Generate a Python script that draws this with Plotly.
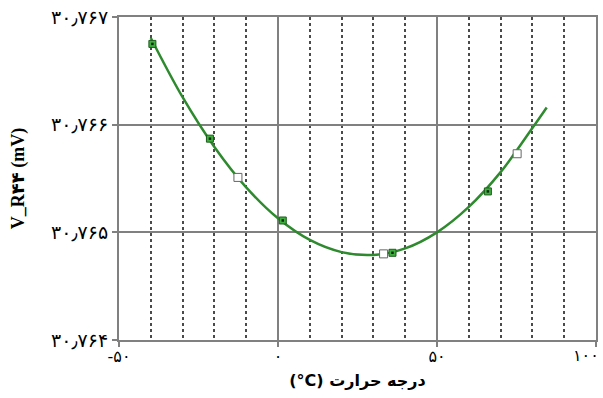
import plotly.graph_objects as go

# fitted curve
curve_x = [-40, -30, -20, -10, 0, 10, 20, 30, 40, 50, 60, 70, 80, 84.5]
curve_y = [30.766805, 30.766255, 30.765793, 30.765418, 30.765130, 30.764929,
           30.764816, 30.764790, 30.764851, 30.765000, 30.765236, 30.765559,
           30.765969, 30.766160]

# measured points (green squares)
meas_x = [-39.5, -21.4, 1.5, 36, 66]
meas_y = [30.76675, 30.76587, 30.76511, 30.76481, 30.76538]

# white squares
ref_x = [-12.6, 33.2, 75.2]
ref_y = [30.76551, 30.76480, 30.76573]

y_ticks = [30.764, 30.765, 30.766, 30.767]
y_labels = ["۳۰٫۷۶۴", "۳۰٫۷۶۵", "۳۰٫۷۶۶", "۳۰٫۷۶۷"]
x_ticks = [-50, 0, 50, 100]
x_labels = ["-۵۰", "۰", "۵۰", "۱۰۰"]

font_fam = "Liberation Serif, DejaVu Serif, DejaVu Sans, serif"

fig = go.Figure()
fig.add_trace(go.Scatter(x=curve_x, y=curve_y, mode="lines",
                         line=dict(color="#2f8a2f", width=2.5, shape="spline"),
                         hoverinfo="skip", showlegend=False))
fig.add_trace(go.Scatter(x=meas_x, y=meas_y, mode="markers",
                         marker=dict(symbol="square", size=7, color="#3fae3f",
                                     line=dict(color="#1d5e1d", width=1)),
                         showlegend=False))
fig.add_trace(go.Scatter(x=meas_x, y=meas_y, mode="markers",
                         marker=dict(symbol="square", size=2.5, color="#0b2a0b"),
                         showlegend=False))
fig.add_trace(go.Scatter(x=ref_x, y=ref_y, mode="markers",
                         marker=dict(symbol="square", size=8, color="white",
                                     line=dict(color="#666666", width=1)),
                         showlegend=False))

# the last x label sits at the right edge: draw it right-anchored so it stays inside
tick_text_axis = x_labels[:-1] + [""]
fig.add_annotation(x=x_ticks[-1], y=0, xref="x", yref="paper",
                   text=x_labels[-1], showarrow=False,
                   xanchor="right", yanchor="middle", xshift=5, yshift=-15,
                   font=dict(size=16, family="DejaVu Sans", color="black"))

fig.update_layout(
    width=603, height=398,
    margin=dict(l=119, r=7, t=17, b=58),
    paper_bgcolor="white", plot_bgcolor="white",
    font=dict(family=font_fam, size=13, color="black"),
    xaxis=dict(range=[-50, 100], tickvals=x_ticks, ticktext=tick_text_axis,
               automargin=False, ticklabeloverflow="allow",
               showgrid=True, gridcolor="#808080", gridwidth=2,
               minor=dict(dtick=10, tick0=0, showgrid=True, griddash="dot",
                          gridcolor="#4a4a4a", gridwidth=2),
               showline=True, linecolor="#808080", linewidth=2, mirror=True,
               ticks="outside", ticklen=5, tickwidth=2, tickcolor="#808080",
               zeroline=False, ticklabelstandoff=-4,
               title=dict(text="(°C) درجه حرارت",
                          font=dict(size=16, family="DejaVu Sans", weight="bold"),
                          standoff=10),
               tickfont=dict(size=16, family="DejaVu Sans")),
    yaxis=dict(range=[30.764, 30.767], tickvals=y_ticks, ticktext=y_labels,
               automargin=False, ticklabeloverflow="allow",
               showgrid=True, gridcolor="#808080", gridwidth=2,
               showline=True, linecolor="#808080", linewidth=2, mirror=True,
               ticks="outside", ticklen=5, tickwidth=2, tickcolor="#808080",
               zeroline=False,
               title=dict(text="V_R۴۴ (mV)",
                          font=dict(size=18, family=font_fam, weight="bold"),
                          standoff=22),
               tickfont=dict(size=19, family="DejaVu Sans")),
)

fig.write_html("out.html", config={"displayModeBar": False},
               post_script="document.body.style.margin='0';"
                           "document.body.style.overflow='hidden';")
